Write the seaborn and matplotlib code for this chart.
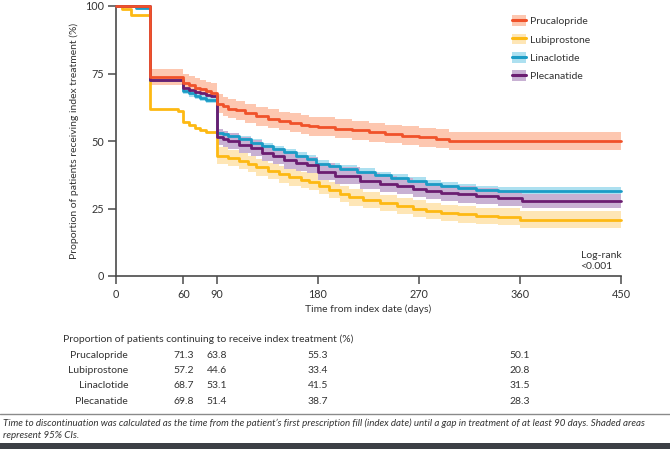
import matplotlib
matplotlib.use("Agg")
import matplotlib.pyplot as plt
import matplotlib.transforms as mtransforms
from matplotlib.patches import Patch, Rectangle
from matplotlib.lines import Line2D
import numpy as np
import pandas as pd
import seaborn as sns

# ---------------- data ----------------
series_names = ["Prucalopride", "Lubiprostone", "Linaclotide", "Plecanatide"]

pru_days = [0, 30, 60, 65, 70, 75, 80, 85, 90, 95, 100, 107, 115, 125, 135, 145, 155, 165, 172,
            180, 195, 210, 225, 240, 255, 270, 285, 297, 450]
pru_pct = [100, 73.8, 71.3, 70.6, 69.8, 69.2, 68.5, 67.9, 63.8, 62.8, 62.0, 61.3, 60.2, 59.2, 58.3,
           57.4, 56.7, 56.0, 55.5, 55.3, 54.6, 54.0, 53.3, 52.6, 52.0, 51.4, 50.8, 50.1, 50.1]
pru_ci = [0, 3.0, 3.5, 3.5, 3.5, 3.5, 3.5, 3.5, 3.5, 3.5, 3.5, 3.5, 3.5, 3.5, 3.5, 3.5, 3.5, 3.5,
          3.5, 3.5, 3.5, 3.5, 3.5, 3.5, 3.5, 3.5, 3.5, 3.4, 3.4]

lub_days = [0, 5, 13, 30, 45, 55, 60, 65, 70, 75, 80, 90, 100, 110, 118, 125, 135, 145, 154, 165,
            172, 181, 190, 200, 208, 220, 235, 250, 265, 276, 290, 305, 321, 340, 360, 450]
lub_pct = [100, 98.8, 96.8, 62.0, 61.7, 61.2, 57.2, 55.8, 54.8, 54.2, 53.4, 44.6, 43.6, 42.5, 41.6,
           40.2, 38.8, 37.6, 36.5, 35.5, 35.0, 33.4, 31.8, 30.3, 29.1, 28.2, 27.0, 26.0, 25.0, 24.2,
           23.3, 22.8, 22.3, 22.0, 20.8, 20.8]
lub_ci = [0, 0, 0, 0, 0, 0, 0, 0, 0, 0, 0, 3.0, 3.0, 3.0, 3.0, 3.0, 3.0, 3.0, 3.0, 3.0, 3.0, 3.0,
          3.0, 3.0, 3.0, 3.0, 3.0, 3.0, 3.0, 3.0, 3.0, 3.0, 3.0, 3.0, 3.1, 3.1]

lin_days = [0, 18, 30, 60, 65, 70, 75, 80, 90, 95, 100, 110, 120, 130, 140, 150, 160, 170, 178,
            190, 200, 215, 231, 245, 260, 276, 290, 305, 321, 340, 360, 450]
lin_pct = [100, 99.4, 72.6, 68.7, 67.6, 66.8, 66.1, 65.3, 53.1, 52.5, 51.8, 50.6, 49.3, 48.0, 46.9,
           45.8, 44.6, 43.4, 41.5, 40.6, 39.7, 38.6, 37.3, 36.3, 35.2, 34.2, 33.4, 32.7, 32.0, 31.6,
           31.3, 31.3]
lin_ci = [0, 0, 0, 1.3, 1.3, 1.3, 1.3, 1.3, 1.3, 1.3, 1.3, 1.3, 1.3, 1.3, 1.3, 1.3, 1.3, 1.3, 1.3,
          1.3, 1.3, 1.3, 1.3, 1.3, 1.3, 1.3, 1.3, 1.3, 1.4, 1.5, 1.5, 1.5]

ple_days = [0, 30, 60, 65, 70, 75, 80, 85, 90, 95, 100, 110, 120, 130, 140, 150, 160, 170, 180,
            195, 217, 235, 250, 265, 276, 290, 305, 321, 340, 362, 450]
ple_pct = [100, 72.6, 69.8, 68.9, 68.2, 67.6, 67.0, 66.5, 51.4, 50.8, 50.0, 48.5, 47.3, 45.5, 44.3,
           42.8, 41.8, 41.0, 38.7, 37.2, 35.3, 34.2, 33.2, 32.3, 31.6, 30.8, 30.2, 29.7, 28.9, 27.9,
           27.9]
ple_ci = [0, 0, 0, 0, 0, 0, 0, 0, 3.0, 3.0, 3.0, 3.0, 3.0, 3.0, 3.0, 3.0, 3.0, 3.0, 3.0, 3.0, 3.0,
          3.0, 3.0, 3.0, 3.0, 3.0, 3.0, 3.0, 3.0, 2.6, 2.6]

table_days = [60, 90, 180, 360]
table_pru = [71.3, 63.8, 55.3, 50.1]
table_lub = [57.2, 44.6, 33.4, 20.8]
table_lin = [68.7, 53.1, 41.5, 31.5]
table_ple = [69.8, 51.4, 38.7, 28.3]

xticks = [0, 60, 90, 180, 270, 360, 450]
yticks = [0, 25, 50, 75, 100]

line_colors = {"Prucalopride": "#f0522a", "Lubiprostone": "#fdb913",
               "Linaclotide": "#1b9cc6", "Plecanatide": "#6b1d71"}
band_colors = {"Prucalopride": "#fdc7b0", "Lubiprostone": "#fee6b6",
               "Linaclotide": "#ade0f0", "Plecanatide": "#c8b1d3"}

# ---------------- build table ----------------
frames = []
for name, d, p, c in [("Prucalopride", pru_days, pru_pct, pru_ci),
                      ("Lubiprostone", lub_days, lub_pct, lub_ci),
                      ("Linaclotide", lin_days, lin_pct, lin_ci),
                      ("Plecanatide", ple_days, ple_pct, ple_ci)]:
    frames.append(pd.DataFrame({"series": name, "day": d, "pct": p, "ci": c}))
df = pd.concat(frames, ignore_index=True)
df["lo"] = df["pct"] - df["ci"]
df["hi"] = df["pct"] + df["ci"]

# ---------------- figure ----------------
sns.set_theme(style="ticks")
plt.rcParams["font.family"] = ["Lato", "DejaVu Sans"]
text_color = "#333333"
fs = 7.5

W, H = 670, 449
fig = plt.figure(figsize=(W / 100, H / 100), dpi=100)
ax_left, ax_right, ax_top, ax_bot = 116, 621, 6, 276
ax = fig.add_axes([ax_left / W, 1 - ax_bot / H, (ax_right - ax_left) / W, (ax_bot - ax_top) / H])

for name in ["Prucalopride", "Lubiprostone", "Linaclotide", "Plecanatide"]:
    sub = df[df.series == name]
    ax.fill_between(sub["day"], sub["lo"], sub["hi"], step="post",
                    color=band_colors[name], lw=0, zorder=1)

for name in ["Lubiprostone", "Linaclotide", "Plecanatide", "Prucalopride"]:
    sub = df[df.series == name]
    sns.lineplot(data=sub, x="day", y="pct", ax=ax, color=line_colors[name],
                 drawstyle="steps-post", estimator=None, linewidth=2.0, legend=False,
                 zorder=3)
for ln in ax.lines:
    ln.set_clip_on(False)

ax.set_xlim(0, 450)
ax.set_ylim(0, 100)
ax.set_xticks(xticks)
ax.set_yticks(yticks)
ax.set_xticklabels([str(t) for t in xticks])
ax.set_yticklabels([str(t) for t in yticks])
for s in ["top", "right"]:
    ax.spines[s].set_visible(False)
for s in ["left", "bottom"]:
    ax.spines[s].set_color("#4a4a4a")
    ax.spines[s].set_linewidth(1.2)
ax.tick_params(axis="both", direction="out", length=6, width=1.1, color="#4a4a4a",
               labelsize=7.8, labelcolor=text_color)
ax.tick_params(axis="y", pad=2.5)
ax.tick_params(axis="x", pad=3.5)
ax.set_xlabel("Time from index date (days)", fontsize=fs, color=text_color)
ax.set_ylabel("Proportion of patients receiving index treatment (%)", fontsize=fs,
              color=text_color)
ax.xaxis.set_label_coords(0.5, -(304 - ax_bot) / (ax_bot - ax_top))
ax.yaxis.set_label_coords(-(ax_left - 79) / (ax_right - ax_left), 0.5)

ax.text(414, 2, "Log-rank\n<0.001", fontsize=fs, color=text_color, ha="left", va="bottom",
        linespacing=1.2)

# legend
handles = [(Patch(facecolor=band_colors[n], edgecolor="none"),
            Line2D([], [], color=line_colors[n], lw=2.2)) for n in series_names]
fig.legend(handles, series_names, loc="upper left", bbox_to_anchor=(503 / W, 1 - 6 / H),
           frameon=False, fontsize=fs, handlelength=1.35, handleheight=1.2,
           labelspacing=0.72, handletextpad=0.3, labelcolor=text_color)

# table below
fig.text(63 / W, 1 - 339 / H, "Proportion of patients continuing to receive index treatment (%)",
         fontsize=fs, color=text_color, ha="left", va="center")
blend = mtransforms.blended_transform_factory(ax.transData, fig.transFigure)
rows_y = [355, 370.5, 386, 401.5]
for name, vals, py in zip(series_names, [table_pru, table_lub, table_lin, table_ple], rows_y):
    fig.text(128 / W, 1 - py / H, name, fontsize=fs, color=text_color, ha="right", va="center")
    for d, v in zip(table_days, vals):
        fig.text(d, 1 - py / H, f"{v:.1f}", transform=blend, fontsize=fs, color=text_color,
                 ha="center", va="center")

# footnote
fig.add_artist(Line2D([0, 1], [1 - 414 / H, 1 - 414 / H], color="#8a8a8a", lw=1.0,
                      transform=fig.transFigure))
fig.text(3 / W, 1 - 423 / H,
         "Time to discontinuation was calculated as the time from the patient\u2019s first "
         "prescription fill (index date) until a gap in treatment of at least 90 days. Shaded areas",
         fontsize=7.0, style="italic", color=text_color, ha="left", va="center")
fig.text(3 / W, 1 - 435 / H, "represent 95% CIs.", fontsize=7.0, style="italic",
         color=text_color, ha="left", va="center")
fig.add_artist(Rectangle((0, 0), 1, 6 / H, transform=fig.transFigure, color="#3c3f45", lw=0))

fig.savefig("out.png", dpi=100)
